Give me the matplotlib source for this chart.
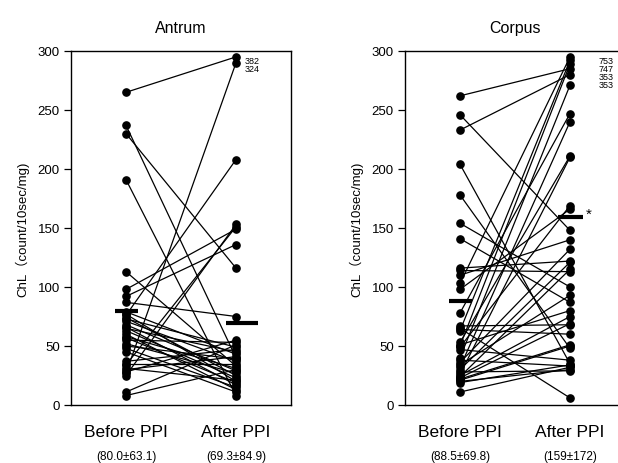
import matplotlib
matplotlib.use("Agg")
import matplotlib.pyplot as plt
import numpy as np

plt.rcParams['font.family'] = ['Liberation Sans', 'Noto Sans CJK JP', 'DejaVu Sans']

# Antrum: paired values (before -> after); off-scale values shown at top with labels
antrum_before = [265, 237, 230, 191, 113, 98, 92, 87, 79, 77, 76, 74, 73, 71, 68, 66, 65, 63,
                 60, 58, 57, 55, 52, 50, 48, 45, 37, 35, 34, 31, 30, 28, 27, 25, 11, 8]
antrum_after = [295, 40, 116, 8, 33, 149, 136, 75, 43, 20, 208, 25, 49, 37, 29, 17, 45, 23,
                13, 31, 19, 53, 27, 39, 15, 11, 47, 35, 151, 21, 41, 55, 290, 153, 51, 30]
antrum_top_labels = ["382", "324"]
antrum_means = [80.0, 69.3]
antrum_stats = ["(80.0\u00b163.1)", "(69.3\u00b184.9)"]

# Corpus
corpus_before = [262, 246, 233, 204, 178, 154, 141, 116, 114, 110, 103, 98, 78, 67, 65, 64,
                 63, 53, 51, 50, 49, 47, 40, 38, 36, 34, 32, 30, 28, 26, 25, 24, 23, 22, 21,
                 20, 19, 11]
corpus_after = [285, 148, 280, 35, 48, 100, 87, 122, 113, 140, 295, 166, 247, 68, 6, 60,
                292, 211, 80, 289, 169, 38, 271, 33, 132, 93, 240, 121, 29, 210, 75, 115, 69,
                51, 50, 30, 34, 32]
corpus_top_labels = ["753", "747", "353", "353"]
corpus_means = [88.5, 159]
corpus_stats = ["(88.5\u00b169.8)", "(159\u00b1172)"]

groups = ["Before PPI", "After PPI"]

fig = plt.figure(figsize=(6.18, 4.64), dpi=100)
W, H = 618.0, 464.0
ax1 = fig.add_axes([71 / W, 1 - 406 / H, 220 / W, 354 / H])
ax2 = fig.add_axes([405 / W, 1 - 406 / H, 220 / W, 354 / H])


def draw(ax, before, after, means, stats, top_labels, title, label_x, bars, star):
    xs = [0.5, 1.5]
    for b, a in zip(before, after):
        ax.plot(xs, [b, a], color='black', lw=0.9, marker='o', ms=5.2,
                mec='black', mfc='black', clip_on=False, zorder=3)
    for x, m, (lo, hi) in zip(xs, means, bars):
        ax.plot([x + lo, x + hi], [m, m], color='black', lw=3,
                solid_capstyle='butt', zorder=4)
    if star:
        ax.text(xs[1] + 0.14, means[1] + 3, "*", fontsize=11, ha='left', va='center')
    # labels for off-scale points
    for i, t in enumerate(top_labels):
        ax.text(label_x, 292 - i * 6.8, t, fontsize=6.5, ha='left', va='center')
    ax.set_xlim(0, 2)
    ax.set_ylim(0, 300)
    ax.set_yticks(np.arange(0, 301, 50))
    ax.set_xticks([])
    ax.tick_params(axis='y', direction='out', length=5, width=0.9, labelsize=9.5, pad=3)
    for s in ax.spines.values():
        s.set_linewidth(1.0)
    ax.set_title(title, fontsize=11.5, pad=14)
    ax.set_ylabel("ChL\uff08count/10sec/mg)", fontsize=9.5, labelpad=6)
    for x, g, st in zip(xs, groups, stats):
        ax.text(x, -0.075, g, transform=ax.get_xaxis_transform(), ha='center', va='center',
                fontsize=12.5)
        ax.text(x, -0.143, st, transform=ax.get_xaxis_transform(), ha='center', va='center',
                fontsize=8.5)


draw(ax1, antrum_before, antrum_after, antrum_means, antrum_stats, antrum_top_labels,
     "Antrum", 1.58, [(-0.1, 0.11), (-0.09, 0.2)], False)
draw(ax2, corpus_before, corpus_after, corpus_means, corpus_stats, corpus_top_labels,
     "Corpus", 1.76, [(-0.1, 0.11), (-0.11, 0.12)], True)

fig.savefig("out.png", dpi=100)
